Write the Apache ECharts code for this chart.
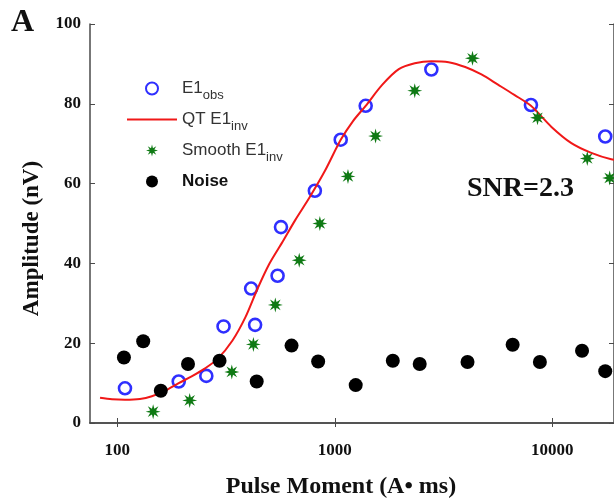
<!DOCTYPE html>
<html>
<head>
<meta charset="utf-8">
<script src="https://cdn.jsdelivr.net/npm/echarts@6/dist/echarts.min.js"></script>
<style>
  html, body { margin: 0; padding: 0; background: #fff; }
  #chart { width: 614px; height: 504px; }
</style>
</head>
<body>
<div id="chart"></div>
<script>
// E1 observed (blue open circles)
var obsMoment = [108.6, 191.8, 256.8, 308.2, 412.7, 430.4, 546, 566, 810, 1065, 1387, 2779, 7972, 17500];
var obsAmp = [8.7, 10.4, 11.8, 24.2, 33.7, 24.6, 36.9, 49.1, 58.2, 71.0, 79.5, 88.6, 79.7, 71.8];

// QT E1 inversion (red curve)
var qtMoment = [83.4, 94.7, 108.6, 127.2, 144.3, 165.5, 191.8, 219.9, 252.3, 289.3, 338.8, 388.6, 441, 500.5, 575.7, 658, 762.7, 902.7, 1065, 1213, 1387, 1651, 1969, 2331, 2779, 3335, 3977, 4722, 5648, 6687, 7972, 9906, 12230, 15100, 18640, 24700];
var qtAmp = [6.33, 5.96, 5.84, 6.01, 6.69, 8.03, 9.98, 11.68, 13.63, 16.06, 20.68, 26.52, 33.58, 39.9, 45.43, 50.85, 56.37, 63.26, 70.97, 75.67, 79.49, 84.74, 88.69, 90.15, 90.68, 90.44, 89.22, 87.35, 84.74, 82.24, 79.49, 74.21, 70.15, 67.71, 66.11, 64.96];

// smooth E1 inversion (green stars)
var smoothMoment = [146.3, 215.4, 336.4, 422.7, 533.1, 686.5, 853.9, 1150, 1540, 2331, 4295, 8546, 14470, 18340];
var smoothAmp = [2.85, 5.67, 12.8, 19.7, 29.6, 40.8, 50.0, 61.8, 71.9, 83.3, 91.4, 76.5, 66.3, 61.4];

// noise (black dots)
var noiseMoment = [107.4, 131.7, 158.7, 211.6, 295.4, 437.7, 633, 838.7, 1248, 1848, 2457, 4075, 6569, 8764, 13690, 17500];
var noiseAmp = [16.4, 20.5, 8.1, 14.8, 15.6, 10.4, 19.4, 15.4, 9.5, 15.6, 14.8, 15.3, 19.6, 15.3, 18.1, 13.0];

var xLabels = [100, 1000, 10000];

function zip(a, b) {
  var out = [];
  for (var i = 0; i < a.length; i++) out.push([a[i], b[i]]);
  return out;
}

// 8 armed star, looks like the matlab '*' marker
var starPath = (function () {
  var pts = [];
  for (var i = 0; i < 16; i++) {
    var a = i * Math.PI / 8 - Math.PI / 2;
    var r = i % 2 ? 21 : 50;
    pts.push((50 + r * Math.cos(a)).toFixed(1) + ',' + (50 + r * Math.sin(a)).toFixed(1));
  }
  return 'path://M' + pts.join('L') + 'Z';
})();

var serif = '"Liberation Serif", "Times New Roman", serif';
var sans = '"Liberation Sans", Arial, sans-serif';
var axisColor = '#4a4a4a';

var Chart = echarts.init(document.getElementById('chart'), null, { renderer: 'canvas' });

var legendNames = {
  'E1obs': '{m|E1}{s|obs}',
  'QT E1inv': '{m|QT E1}{s|inv}',
  'Smooth E1inv': '{m|Smooth E1}{s|inv}',
  'Noise': '{b|Noise}'
};

var option = {
  animation: false,
  backgroundColor: '#fff',
  grid: { left: 90, right: -2, top: 24, bottom: 69 },
  legend: {
    orient: 'vertical',
    left: 127,
    top: 80,
    padding: 0,
    itemWidth: 50,
    itemHeight: 12,
    itemGap: 9,
    data: [
      'E1obs',
      { name: 'QT E1inv', icon: 'path://M0,0H100V4H0Z' },
      'Smooth E1inv',
      'Noise'
    ],
    formatter: function (name) { return legendNames[name]; },
    textStyle: {
      rich: {
        m: { fontFamily: sans, fontSize: 17, color: '#333' },
        s: { fontFamily: sans, fontSize: 13, color: '#333', padding: [14, 0, 0, 0] },
        b: { fontFamily: sans, fontSize: 17, fontWeight: 'bold', color: '#111' }
      }
    }
  },
  xAxis: [{
    type: 'log',
    min: 75,
    max: 19200,
    name: 'Pulse Moment (A\u2022 ms)',
    nameLocation: 'middle',
    nameGap: 52,
    nameTextStyle: { fontFamily: serif, fontSize: 24, fontWeight: 'bold', color: '#111', padding: [0, 22, 0, 0] },
    axisLine: { lineStyle: { color: axisColor, width: 1.5 } },
    axisTick: { inside: true, length: 5, customValues: xLabels, lineStyle: { color: axisColor } },
    axisLabel: {
      customValues: xLabels,
      margin: 19,
      fontFamily: serif, fontSize: 17, fontWeight: 'bold', color: '#111',
      formatter: function (v) { return String(Math.round(v)); }
    },
    splitLine: { show: false }
  }, {
    type: 'log',
    position: 'top',
    min: 75,
    max: 19200,
    axisLine: { lineStyle: { color: axisColor, width: 1.5 } },
    axisTick: { inside: true, length: 4, customValues: xLabels, lineStyle: { color: axisColor } },
    axisLabel: { show: false },
    splitLine: { show: false }
  }],
  yAxis: [{
    type: 'value',
    min: 0,
    max: 100,
    interval: 20,
    name: 'Amplitude (nV)',
    nameLocation: 'middle',
    nameGap: 46,
    nameTextStyle: { fontFamily: serif, fontSize: 23, fontWeight: 'bold', color: '#111', padding: [0, 30, 0, 0] },
    axisLine: { show: true, lineStyle: { color: axisColor, width: 1.5 } },
    axisTick: { show: true, inside: true, length: 5, lineStyle: { color: axisColor } },
    axisLabel: { margin: 9, fontFamily: serif, fontSize: 17, fontWeight: 'bold', color: '#111' },
    splitLine: { show: false }
  }, {
    type: 'value',
    position: 'right',
    min: 0,
    max: 100,
    interval: 20,
    axisLine: { show: true, lineStyle: { color: axisColor, width: 1.5 } },
    axisTick: { show: true, inside: true, length: 5, lineStyle: { color: axisColor } },
    axisLabel: { show: false },
    splitLine: { show: false }
  }],
  graphic: [{
    type: 'text',
    left: 11,
    top: 7,
    style: { text: 'A', font: 'bold 32px ' + serif, fill: '#111' }
  }, {
    type: 'text',
    left: 467,
    top: 175,
    style: { text: 'SNR=2.3', font: 'bold 28px ' + serif, fill: '#111' }
  }],
  series: [{
    name: 'QT E1inv',
    type: 'line',
    smooth: 0.3,
    symbol: 'none',
    z: 3,
    lineStyle: { color: '#f01818', width: 2 },
    itemStyle: { color: '#f01818' },
    data: zip(qtMoment, qtAmp)
  }, {
    name: 'E1obs',
    type: 'scatter',
    symbol: 'circle',
    symbolSize: 12,
    z: 2,
    itemStyle: { color: 'rgba(255,255,255,0)', borderColor: '#2f2fff', borderWidth: 2.6, opacity: 1 },
    data: zip(obsMoment, obsAmp)
  }, {
    name: 'Smooth E1inv',
    type: 'scatter',
    symbol: starPath,
    symbolSize: 15,
    z: 4,
    itemStyle: { color: '#0f7a14', opacity: 1 },
    data: zip(smoothMoment, smoothAmp)
  }, {
    name: 'Noise',
    type: 'scatter',
    symbol: 'circle',
    symbolSize: 14,
    z: 4,
    itemStyle: { color: '#000', opacity: 1 },
    data: zip(noiseMoment, noiseAmp)
  }]
};

Chart.setOption(option);
</script>
</body>
</html>
